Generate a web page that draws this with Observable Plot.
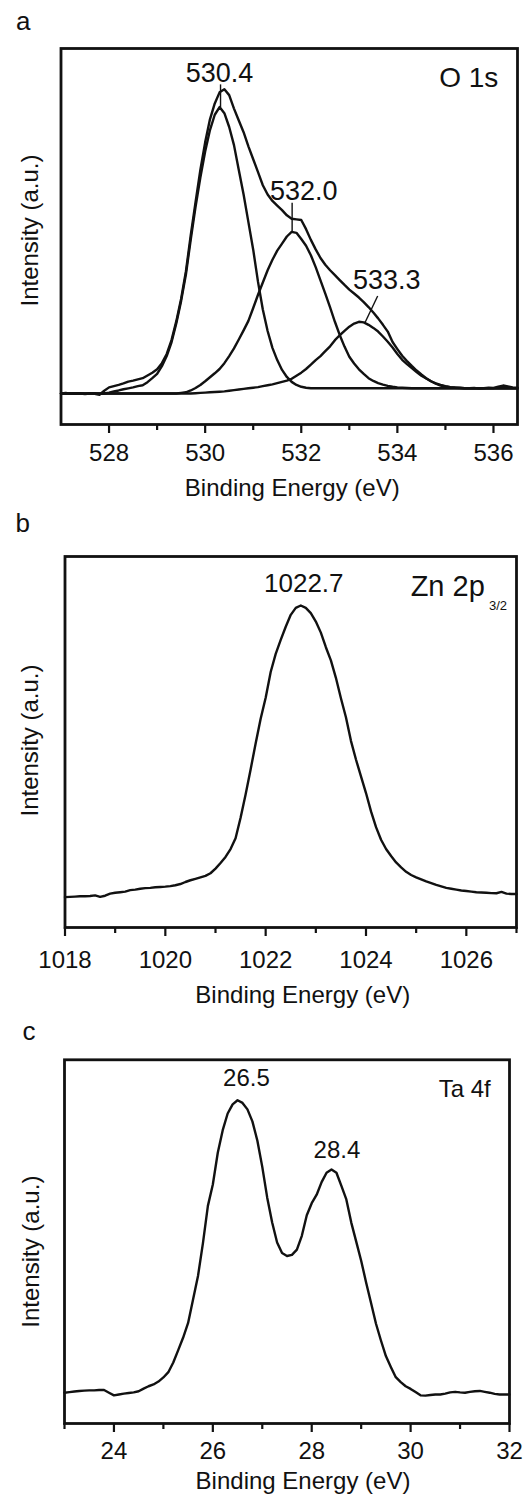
<!DOCTYPE html>
<html><head><meta charset="utf-8">
<script src="https://cdn.jsdelivr.net/npm/d3@7"></script>
<script src="https://cdn.jsdelivr.net/npm/@observablehq/plot@0.6"></script>
<style>
body{margin:0;background:#fff;width:525px;height:1498px;overflow:hidden;position:relative;font-family:"Liberation Sans",Arial,sans-serif;}
.panel{position:absolute;left:0;}
</style></head><body>
<div id="pa" class="panel" style="top:0px"></div>
<div id="pb" class="panel" style="top:505px"></div>
<div id="pc" class="panel" style="top:1010px"></div>
<script>
// ---------- Panel a: O 1s ----------
const aEnergy = [527.0,527.1,527.2,527.3,527.4,527.5,527.6,527.7,527.8,527.9,
528.0,528.1,528.2,528.3,528.4,528.5,528.6,528.7,528.8,528.9,
529.0,529.1,529.2,529.3,529.4,529.5,529.6,529.7,529.8,529.9,
530.0,530.1,530.2,530.3,530.4,530.5,530.6,530.7,530.8,530.9,
531.0,531.1,531.2,531.3,531.4,531.5,531.6,531.7,531.8,531.9,
532.0,532.1,532.2,532.3,532.4,532.5,532.6,532.7,532.8,532.9,
533.0,533.1,533.2,533.3,533.4,533.5,533.6,533.7,533.8,533.9,
534.0,534.1,534.2,534.3,534.4,534.5,534.6,534.7,534.8,534.9,
535.0,535.1,535.2,535.3,535.4,535.5,535.6,535.7,535.8,535.9,
536.0,536.1,536.2,536.3,536.4,536.5];
const aEnvelope = [0.6,0.8,0.5,0.7,0.6,0.4,0.6,0.5,0.2,1.5,
2.6,3.0,3.4,3.9,4.5,4.8,5.2,5.6,6.5,7.4,
8.5,10.5,13.5,18.0,24.2,31.5,40.5,52.2,63.0,73.5,
82.5,90.0,95.2,98.8,99.8,97.9,93.5,89.6,85.8,81.2,
77.0,72.8,68.5,65.5,63.4,61.9,60.4,58.7,57.6,57.4,
57.2,54.2,50.7,47.6,44.8,42.6,40.8,39.2,37.6,36.0,
34.5,33.2,31.9,30.4,28.8,27.0,25.1,23.0,20.8,17.4,
15.1,12.9,11.2,9.6,8.1,6.8,5.6,4.6,3.8,3.2,
2.9,2.7,2.6,2.5,2.3,2.3,2.4,2.2,2.3,2.5,
2.4,2.8,3.2,2.9,2.6,2.5];
const aPeak1 = [0.6,0.6,0.6,0.6,0.6,0.5,0.6,0.6,0.5,0.6,
0.9,1.3,1.6,2.0,2.3,2.6,3.0,3.3,4.3,5.6,
7.0,9.5,12.8,17.3,23.5,30.8,39.5,50.8,61.5,71.0,
79.5,86.5,91.5,94.0,92.0,87.5,81.6,73.5,65.5,56.5,
47.5,37.0,28.0,21.0,15.5,11.5,8.3,6.0,4.4,3.4,
2.8,2.5,2.3,2.3,2.3,2.3,2.3,2.3,2.3,2.3,
2.3,2.3,2.3,2.3,2.3,2.3,2.3,2.3,2.3,2.3,
2.3,2.3,2.3,2.3,2.3,2.3,2.3,2.3,2.3,2.3,
2.3,2.3,2.3,2.3,2.3,2.3,2.3,2.3,2.3,2.3,
2.3,2.3,2.3,2.3,2.3,2.3];
const aPeak2 = [0.6,0.6,0.6,0.6,0.6,0.6,0.6,0.6,0.6,0.6,
0.6,0.6,0.6,0.6,0.6,0.6,0.6,0.6,0.6,0.6,
0.6,0.6,0.6,0.6,0.6,0.8,1.0,1.6,2.4,3.4,
4.6,5.9,7.2,8.6,10.5,12.8,15.3,18.2,21.2,24.3,
28.5,32.8,36.8,40.8,44.2,47.2,49.5,51.8,53.3,53.0,
51.0,48.8,45.7,41.8,37.5,33.2,28.7,24.0,19.7,15.9,
12.6,10.4,8.5,7.0,5.6,4.7,4.0,3.5,3.1,2.8,
2.6,2.5,2.4,2.3,2.3,2.3,2.3,2.3,2.3,2.3,
2.3,2.3,2.3,2.3,2.3,2.3,2.3,2.3,2.3,2.3,
2.3,2.3,2.3,2.3,2.3,2.3];
const aPeak3 = [0.6,0.6,0.6,0.6,0.6,0.6,0.6,0.6,0.6,0.6,
0.6,0.6,0.6,0.6,0.6,0.6,0.6,0.6,0.6,0.6,
0.6,0.6,0.6,0.6,0.6,0.6,0.6,0.6,0.7,0.8,
0.9,1.0,1.1,1.2,1.3,1.5,1.7,1.9,2.1,2.3,
2.5,2.7,3.0,3.3,3.6,4.0,4.4,4.8,5.4,6.4,
7.4,8.6,10.0,11.5,12.8,14.4,16.0,18.0,19.6,21.0,
22.4,23.4,24.0,23.8,23.0,22.0,20.8,19.2,17.5,15.6,
13.5,11.6,10.2,8.9,7.6,6.4,5.5,4.6,3.9,3.4,
3.0,2.7,2.5,2.4,2.3,2.3,2.3,2.3,2.3,2.3,
2.3,2.3,2.3,2.3,2.3,2.3];
const aMajorTicks = [528,530,532,534,536];
const aMinorTicks = [529,531,533,535];
const aPeakLabels = ["530.4","532.0","533.3"];
const aPeakLabelX = [530.30,532.05,533.78];
const aPeakLabelY = [102.1,63.7,34.6];
const aLeaderX1 = [530.32,531.81,533.59];
const aLeaderY1 = [101.4,62.8,32.4];
const aLeaderX2 = [530.32,531.81,533.32];
const aLeaderY2 = [94.0,53.6,23.5];

// ---------- Panel b: Zn 2p3/2 ----------
const bEnergy = [1018.0,1018.1,1018.2,1018.3,1018.4,1018.5,1018.6,1018.7,1018.8,1018.9,
1019.0,1019.1,1019.2,1019.3,1019.4,1019.5,1019.6,1019.7,1019.8,1019.9,
1020.0,1020.1,1020.2,1020.3,1020.4,1020.5,1020.6,1020.7,1020.8,1020.9,
1021.0,1021.1,1021.2,1021.3,1021.4,1021.5,1021.6,1021.7,1021.8,1021.9,
1022.0,1022.1,1022.2,1022.3,1022.4,1022.5,1022.6,1022.7,1022.8,1022.9,
1023.0,1023.1,1023.2,1023.3,1023.4,1023.5,1023.6,1023.7,1023.8,1023.9,
1024.0,1024.1,1024.2,1024.3,1024.4,1024.5,1024.6,1024.7,1024.8,1024.9,
1025.0,1025.1,1025.2,1025.3,1025.4,1025.5,1025.6,1025.7,1025.8,1025.9,
1026.0,1026.1,1026.2,1026.3,1026.4,1026.5,1026.6,1026.7,1026.8,1026.9,
1027.0];
const bIntensity = [-0.2,-0.1,0.0,0.1,0.1,0.2,0.4,-0.1,0.3,1.0,
1.3,1.5,1.7,2.2,2.4,2.7,2.9,3.0,3.2,3.3,
3.4,3.6,3.9,4.3,5.0,5.6,6.1,6.6,7.1,8.0,
9.6,11.5,13.6,16.3,20.0,27.0,35.0,43.6,52.5,61.0,
68.2,77.0,83.2,88.0,92.5,96.6,99.0,99.8,99.0,97.2,
94.3,90.5,85.5,81.0,75.0,68.0,61.5,53.4,47.0,41.2,
35.5,29.2,23.8,19.5,16.3,13.9,11.7,10.0,8.5,7.4,
6.6,5.9,5.2,4.6,4.0,3.5,3.0,2.7,2.4,2.1,
1.9,1.7,1.5,1.4,1.3,1.2,1.15,1.6,1.0,0.9,
0.9];
const bMajorTicks = [1018,1020,1022,1024,1026];
const bMinorTicks = [1019,1021,1023,1025,1027];

// ---------- Panel c: Ta 4f ----------
const cEnergy = [23.0,23.1,23.2,23.3,23.4,23.5,23.6,23.7,23.8,23.9,
24.0,24.1,24.2,24.3,24.4,24.5,24.6,24.7,24.8,24.9,
25.0,25.1,25.2,25.3,25.4,25.5,25.6,25.7,25.8,25.9,
26.0,26.1,26.2,26.3,26.4,26.5,26.6,26.7,26.8,26.9,
27.0,27.1,27.2,27.3,27.4,27.5,27.6,27.7,27.8,27.9,
28.0,28.1,28.2,28.3,28.4,28.5,28.6,28.7,28.8,28.9,
29.0,29.1,29.2,29.3,29.4,29.5,29.6,29.7,29.8,29.9,
30.0,30.1,30.2,30.3,30.4,30.5,30.6,30.7,30.8,30.9,
31.0,31.1,31.2,31.3,31.4,31.5,31.6,31.7,31.8,31.9,
32.0];
const cIntensity = [0.0,0.2,0.4,0.6,0.7,0.8,0.8,0.9,0.9,0.0,
-0.9,-0.6,-0.3,-0.1,0.1,0.5,1.4,2.2,2.8,3.8,
5.2,7.0,10.3,14.5,18.8,23.8,31.8,39.8,51.0,63.7,
71.0,81.8,89.5,95.2,98.3,99.7,98.8,96.6,92.5,86.0,
77.0,66.5,58.0,51.2,47.6,46.6,47.0,48.8,53.5,60.5,
64.6,67.5,71.8,75.0,76.1,75.0,70.5,65.9,58.0,51.5,
45.0,37.6,30.6,23.5,17.8,12.5,8.8,5.3,3.6,2.2,
1.3,0.2,-0.9,-1.0,-0.8,-0.6,-0.6,-0.3,0.1,0.3,
0.1,0.0,0.3,0.5,0.6,0.3,0.0,-0.4,-0.6,-0.6,
-0.6];
const cMajorTicks = [24,26,28,30,32];
const cMinorTicks = [23,25,27,29,31];
const cPeakLabels = ["26.5","28.4"];
const cPeakLabelX = [26.68,28.51];
const cPeakLabelY = [104.5,80.1];

const FONT = '"Liberation Sans", Arial, Helvetica, sans-serif';
const INK = "#111";

function basePanel(cfg) {
  const marks = [
    Plot.frame({stroke: INK, strokeWidth: 2.8}),
    Plot.axisX({ticks: cfg.major, tickSize: 9, tickPadding: cfg.tickPadding, tickFormat: d => String(d), label: null, fontSize: 24, strokeWidth: 2.2, stroke: INK, fill: INK}),
    Plot.axisX({ticks: cfg.minor, tickSize: 6, tickFormat: () => "", label: null, strokeWidth: 2.2, stroke: INK}),
    Plot.text(["Binding Energy (eV)"], {frameAnchor: "bottom", lineAnchor: "top", dy: cfg.xLabelDy, dx: cfg.xLabelDx, fontSize: 24, fill: INK}),
    Plot.text(["Intensity (a.u.)"], {frameAnchor: "left", rotate: -90, lineAnchor: "middle", textAnchor: "middle", dx: cfg.yLabelDx, dy: cfg.yLabelDy, fontSize: 24, fill: INK}),
    Plot.text([cfg.letter], {frameAnchor: "top-left", textAnchor: "start", lineAnchor: "top", dx: cfg.letterDx, dy: cfg.letterDy, fontSize: 26, fill: INK}),
    ...cfg.marks
  ];
  return Plot.plot({
    width: 525,
    height: cfg.height,
    marginTop: cfg.mt, marginBottom: cfg.mb, marginLeft: cfg.ml, marginRight: cfg.mr,
    x: {domain: cfg.xDomain},
    y: {domain: cfg.yDomain, axis: null},
    style: {fontFamily: FONT, fontSize: "24px", background: "white", color: INK, overflow: "visible"},
    marks
  });
}

const lineOpts = {stroke: INK, strokeWidth: 2.4, strokeLinejoin: "round"};

document.getElementById("pa").append(basePanel({
  height: 505, mt: 48, mb: 81, ml: 60.5, mr: 8,
  xDomain: [527, 536.5], yDomain: [-9.5, 113.1],
  major: aMajorTicks, minor: aMinorTicks, tickPadding: 10,
  xLabelDy: 54, xLabelDx: 3, yLabelDx: -30.5, yLabelDy: -6,
  letter: "a", letterDx: -45, letterDy: -36.6,
  marks: [
    Plot.lineY(aPeak1, {x: aEnergy, ...lineOpts}),
    Plot.lineY(aPeak2, {x: aEnergy, ...lineOpts}),
    Plot.lineY(aPeak3, {x: aEnergy, ...lineOpts}),
    Plot.lineY(aEnvelope, {x: aEnergy, ...lineOpts}),
    Plot.link(aLeaderX1, {x1: aLeaderX1, y1: aLeaderY1, x2: aLeaderX2, y2: aLeaderY2, stroke: INK, strokeWidth: 1.4}),
    Plot.text(aPeakLabels, {x: aPeakLabelX, y: aPeakLabelY, text: d => d, lineAnchor: "bottom", fontSize: 27, fill: INK}),
    Plot.text(["O 1s"], {x: [536.1], y: [100.7], text: d => d, lineAnchor: "bottom", textAnchor: "end", fontSize: 28, fill: INK})
  ]
}));

document.getElementById("pb").append(basePanel({
  height: 505, mt: 51, mb: 83, ml: 64.5, mr: 9,
  xDomain: [1018, 1027], yDomain: [-10.6, 116.6],
  major: bMajorTicks, minor: bMinorTicks, tickPadding: 14,
  xLabelDy: 58, xLabelDx: 12, yLabelDx: -34.5, yLabelDy: -1.5,
  letter: "b", letterDx: -49.5, letterDy: -42.9,
  marks: [
    Plot.lineY(bIntensity, {x: bEnergy, ...lineOpts}),
    Plot.text(["1022.7"], {x: [1022.76], y: [104.6], text: d => d, lineAnchor: "bottom", fontSize: 26, fill: INK}),
    Plot.text(["Zn 2p"], {x: [1024.89], y: [103.1], text: d => d, lineAnchor: "bottom", textAnchor: "start", fontSize: 29, fill: INK}),
    Plot.text(["3/2"], {x: [1026.45], y: [98.3], text: d => d, lineAnchor: "bottom", textAnchor: "start", fontSize: 13, fill: INK})
  ]
}));

document.getElementById("pc").append(basePanel({
  height: 488, mt: 49.3, mb: 75, ml: 64, mr: 16,
  xDomain: [23, 32], yDomain: [-10.5, 113.5],
  major: cMajorTicks, minor: cMinorTicks, tickPadding: 9.7,
  xLabelDy: 48.7, xLabelDx: 16, yLabelDx: -33, yLabelDy: 10,
  letter: "c", letterDx: -42, letterDy: -37.9,
  marks: [
    Plot.lineY(cIntensity, {x: cEnergy, ...lineOpts}),
    Plot.text(cPeakLabels, {x: cPeakLabelX, y: cPeakLabelY, text: d => d, lineAnchor: "bottom", fontSize: 24, fill: INK}),
    Plot.text(["Ta 4f"], {x: [31.62], y: [100.7], text: d => d, lineAnchor: "bottom", textAnchor: "end", fontSize: 24, fill: INK})
  ]
}));
</script>
</body></html>
